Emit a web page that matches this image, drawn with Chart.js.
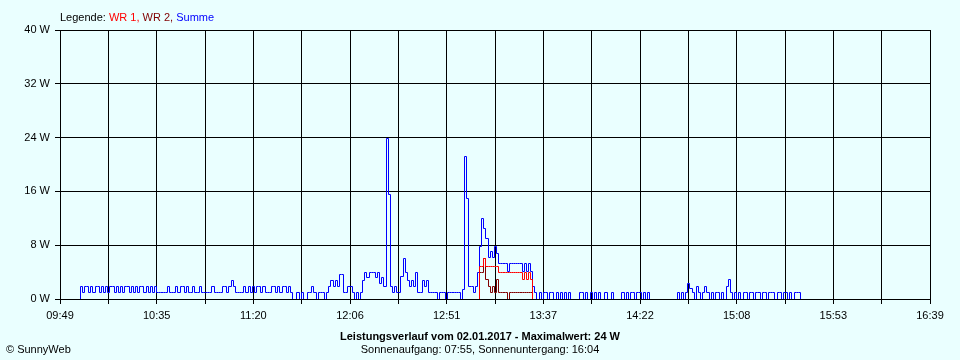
<!DOCTYPE html>
<html><head><meta charset="utf-8">
<script src="https://cdn.jsdelivr.net/npm/chart.js@4"></script>
<style>
html,body{margin:0;padding:0;background:#eaffff;}
#wrap{position:relative;width:960px;height:360px;background:#eaffff;font-family:"Liberation Sans",Arial,sans-serif;font-size:11px;color:#000;overflow:hidden;}
canvas{position:absolute;left:0;top:0;}
.t{position:absolute;line-height:11px;white-space:nowrap;}
</style></head><body>
<div id="wrap">
<canvas id="c" width="960" height="360"></canvas>
<div class="t" style="left:60px;top:12px;">Legende: <span style="color:#ff0000">WR 1,</span> <span style="color:#800000">WR 2,</span> <span style="color:#0000ff">Summe</span></div>
<div class="t" style="left:0;width:960px;text-align:center;top:331px;font-weight:bold;">Leistungsverlauf vom 02.01.2017 - Maximalwert: 24 W</div>
<div class="t" style="left:0;width:960px;text-align:center;top:344px;">Sonnenaufgang: 07:55, Sonnenuntergang: 16:04</div>
<div class="t" style="left:6px;top:344px;">© SunnyWeb</div>
</div>
<script>
// X axis tick labels (every second grid line carries a label)
const xTickLabels = ['09:49','10:35','11:20','12:06','12:51','13:37','14:22','15:08','15:53','16:39'];
const axisStart = '09:49:30';
const axisEnd = '16:39:00';
const gridIntervals = 18;
// Y axis
const yMax = 40;
const yStep = 8;
const yUnit = ' W';

// Summe: one value per minute starting at summeStart
const summeStart = '09:58';
const summe = [
0,1.9,0.9,1.9,1.9,0.9,1.9,0.9,1.9,1.9,
0.9,1.9,0.9,1.9,0.9,1.9,1.9,0.9,1.9,0.9,
1.9,0.9,1.9,1.9,0.9,1.9,0.9,1.9,0.9,1.9,
1.9,0.9,1.9,0.9,1.9,0.9,1.9,0.9,0.9,0.9,
0.9,0.9,1.9,0.9,0.9,0.9,1.9,0.9,1.9,1.9,
0.9,1.9,0.9,0.9,1.9,0.9,0.9,1.9,0.9,0.9,
0.9,0.9,0.9,1.9,0.9,0.9,0.9,0.9,1.9,1.9,
0.9,1.9,2.8,1.9,0.9,0.9,0.9,0.9,1.9,0.9,
1.9,0.9,1.9,0.9,1.9,1.9,0.9,1.9,0.9,0.9,
0.9,1.9,1.9,0.9,1.9,0.9,1.9,1.9,0.9,1.9,
0.9,0,0,0.9,0,0.9,0,0,0.9,0.9,
1.9,0.9,0,0.9,0.9,0.9,0,0.9,1.9,2.8,
1.9,2.8,1.9,3.7,3.7,0.9,0.9,1.9,1.9,0.9,
0,0.9,0,0.9,2.8,3.9,3.2,3.9,3.9,3.9,
3.2,3.9,2.3,3.2,1.9,23.8,15.5,1.9,0.9,1.9,
0.9,0.9,3.3,6.0,3.9,2.8,1.9,2.8,1.9,3.9,
0.9,0.9,2.8,1.9,2.8,0.9,0.9,0.9,0.9,0,
0.9,0.9,0.9,0,0.9,0.9,0.9,0.9,0.9,0.9,
0,1.4,21.2,15.0,1.9,1.9,0.9,1.9,3.9,7.8,
12.0,10.5,9.0,6.2,7.0,6.2,7.8,6.7,5.3,5.3,
5.3,5.3,4.1,5.3,5.3,5.3,5.3,5.3,5.3,4.1,
5.3,4.1,5.3,4.1,1.9,0.9,0,0.9,0,0.9,
0.9,0,0.9,0.9,0,0.9,0,0.9,0,0.9,
0,0.9,0,0,0,0,0.9,0.9,0,0.9,
0,0.9,0,0.9,0,0.9,0,0,0.9,0,
0,0.9,0,0,0,0,0.9,0,0.9,0,
0.9,0.9,0,0.9,0.9,0,0.9,0,0.9,0,
0,0,0,0,0,0,0,0,0,0,
0,0,0.9,0,0.9,0,0.9,2.3,1.6,0.9,
0,1.9,0.9,0,0.9,1.9,0.9,0,0.9,0,
0.9,0.9,0,0.9,0,1.9,2.9,0.9,0,0.9,
0,0.9,0,0.9,0.9,0,0.9,0.9,0,0.9,
0.9,0,0.9,0.9,0,0.9,0.9,0.9,0,0.9,
0.9,0,0.9,0.9,0,0.9,0,0.9,0.9,0.9,
0
];

// WR 1 and WR 2: one value per minute starting at wrStart
const wrStart = '13:06';
const wr1 = [
0,4.9,4.9,6.0,4.9,4.9,4.9,4.9,4.9,4.9,
4.0,4.0,4.0,4.0,4.0,4.0,4.0,4.0,4.0,4.0,
4.0,2.9,4.0,2.9,4.0,2.9,0
];
const wr2 = [
0,4.0,4.0,6.0,2.9,1.9,1.0,1.9,1.0,2.9,
0.9,0.9,0.9,0.9,0,0.9,0.9,0.9,0.9,0.9,
0.9,0.9,0.9,0.9,0.9,0.9,0
];

function toMin(s){const p=s.split(':').map(Number);return p[0]*60+p[1]+(p[2]||0)/60;}
function pts(start, vals){const s=toMin(start);return vals.map((v,i)=>({x:s+i,y:v}));}

const xMin = toMin(axisStart), xMax = toMin(axisEnd);
const gridValues = [];
for(let k=0;k<=gridIntervals;k++){gridValues.push(xMin + (xMax-xMin)*k/gridIntervals);}

const FONT = {family:'"Liberation Sans", Arial, sans-serif', size:11};

// snap line vertices to pixel centres so 1px lines stay crisp (like the bitmap original)
const crisp = {
  id:'crisp',
  beforeDatasetsDraw(chart){
    chart.data.datasets.forEach((d,i)=>{
      const meta = chart.getDatasetMeta(i);
      meta.data.forEach(p=>{ p.x = Math.floor(p.x)+0.5; p.y = Math.floor(p.y)+0.5; });
    });
  }
};

const zeroLine = {
  id:'zeroLine',
  afterDatasetsDraw(chart){
    const {ctx, chartArea:a, scales:{y}} = chart;
    const py = Math.round(y.getPixelForValue(0) - 0.5) + 0.5;
    ctx.save();
    ctx.strokeStyle = '#000';
    ctx.lineWidth = 1;
    ctx.beginPath();
    ctx.moveTo(a.left, py);
    ctx.lineTo(a.right, py);
    ctx.stroke();
    ctx.restore();
  }
};

new Chart(document.getElementById('c'), {
  type:'line',
  data:{
    datasets:[
      {label:'WR 1', data:pts(wrStart, wr1), borderColor:'#ff0000'},
      {label:'WR 2', data:pts(wrStart, wr2), borderColor:'#800000'},
      {label:'Summe', data:pts(summeStart, summe), borderColor:'#0000ff'}
    ]
  },
  options:{
    responsive:false,
    animation:false,
    devicePixelRatio:1,
    parsing:false,
    layout:{padding:{top:30,right:30,bottom:0,left:0}},
    elements:{
      line:{borderWidth:1, stepped:true, tension:0, fill:false},
      point:{radius:0, hoverRadius:0}
    },
    plugins:{legend:{display:false}, tooltip:{enabled:false}, title:{display:false}},
    scales:{
      x:{
        type:'linear', min:xMin, max:xMax,
        afterBuildTicks(s){ s.ticks = gridValues.map(v=>({value:v})); },
        afterFit(s){ s.height = 61; },
        ticks:{autoSkip:false, maxRotation:0, minRotation:0, padding:5, color:'#000', font:FONT,
          callback:(v,i)=> (i%2===0 ? xTickLabels[i/2] : '')},
        grid:{color:'#000', lineWidth:1, tickLength:5, drawTicks:true},
        border:{color:'#000', width:1}
      },
      y:{
        min:0, max:yMax,
        afterFit(s){ s.width = 60; },
        ticks:{stepSize:yStep, padding:5, color:'#000', font:FONT, callback:v=> v + yUnit},
        grid:{color:'#000', lineWidth:1, tickLength:5},
        border:{color:'#000', width:1}
      }
    }
  },
  plugins:[crisp, zeroLine]
});
</script>
</body></html>
